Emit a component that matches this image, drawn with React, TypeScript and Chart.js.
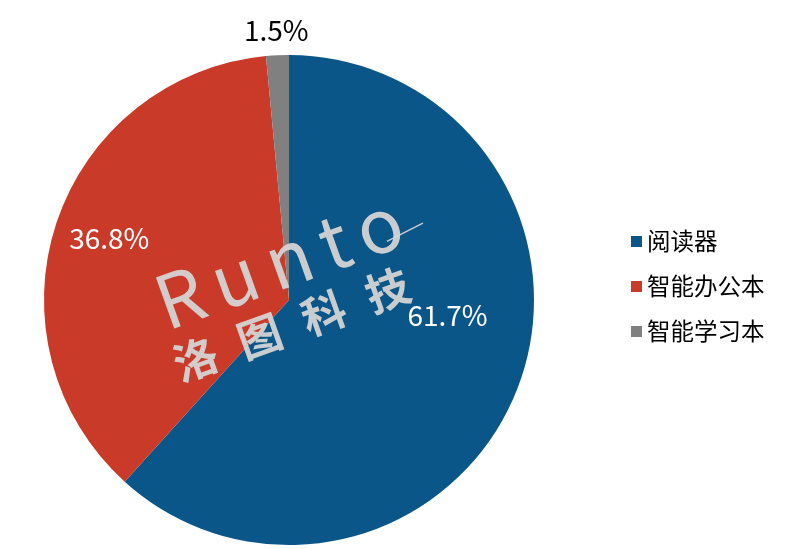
import React, { useEffect, useRef } from "react";
import { Chart, registerables } from "chart.js";

Chart.register(...registerables);

const categories = ["阅读器", "智能办公本", "智能学习本"];
const shares = [61.7, 36.8, 1.5];
const colors = ["#0A5688", "#C93A29", "#808080"];

const FONT = '"Noto Sans CJK SC", "Noto Sans", sans-serif';

// label placement: [fraction along the slice, radius fraction]
const labelPos: [number, number][] = [
  [0.43, 0.65],
  [0.505, 0.776],
  [0.5, 1.1],
];

const overlayPlugin = {
  id: "overlay",
  afterDatasetsDraw(chart: any) {
    const ctx = chart.ctx as CanvasRenderingContext2D;
    const meta = chart.getDatasetMeta(0);
    const arc0 = meta.data[0] as any;
    const cx = arc0.x;
    const cy = arc0.y;
    const R = arc0.outerRadius;

    // watermark
    ctx.save();
    ctx.translate(cx, cy);
    ctx.rotate(-0.345);
    ctx.fillStyle = "rgba(212,212,212,0.95)";
    ctx.strokeStyle = "rgba(212,212,212,0.95)";
    ctx.textAlign = "left";
    ctx.textBaseline = "alphabetic";
    ctx.font = `400 74px ${FONT}`;
    (ctx as any).letterSpacing = "12px";
    ctx.fillText("Runto", -125, -12);
    (ctx as any).letterSpacing = "0px";
    ctx.lineWidth = 1.5;
    ctx.beginPath();
    ctx.moveTo(112, -22);
    ctx.lineTo(152, -27);
    ctx.stroke();
    ctx.textAlign = "center";
    ctx.textBaseline = "middle";
    ctx.font = `bold 44px ${FONT}`;
    const wm = "洛图科技";
    for (let i = 0; i < wm.length; i++) {
      ctx.fillText(wm[i], -108 + i * 68, 24);
    }
    ctx.restore();

    // data labels
    ctx.save();
    ctx.font = `28px ${FONT}`;
    ctx.textBaseline = "middle";
    ctx.textAlign = "center";
    meta.data.forEach((a: any, i: number) => {
      const [f, rf] = labelPos[i];
      const ang = a.startAngle + (a.endAngle - a.startAngle) * f;
      const txt = shares[i].toFixed(1) + "%";
      ctx.fillStyle = i === 2 ? "#000" : "#fff";
      const x = cx + Math.cos(ang) * R * rf;
      const y = cy + Math.sin(ang) * R * rf;
      ctx.fillText(txt, x, y);
    });
    ctx.restore();

    // legend
    ctx.save();
    ctx.font = `23.5px ${FONT}`;
    ctx.textBaseline = "middle";
    ctx.textAlign = "left";
    categories.forEach((c, i) => {
      const y = 241 + i * 45;
      ctx.fillStyle = colors[i];
      ctx.fillRect(631, y - 5, 11, 11);
      ctx.fillStyle = "#000";
      ctx.fillText(c, 647, y);
    });
    ctx.restore();
  },
};

export default function App() {
  const ref = useRef<HTMLCanvasElement>(null);
  useEffect(() => {
    if (!ref.current) return;
    const chart = new Chart(ref.current, {
      type: "pie",
      data: {
        labels: categories,
        datasets: [
          {
            data: shares,
            backgroundColor: colors,
            borderWidth: 0,
          },
        ],
      },
      options: {
        responsive: false,
        animation: false,
        layout: { padding: { left: 44, right: 268, top: 55, bottom: 4 } },
        plugins: {
          legend: { display: false },
          tooltip: { enabled: false },
        },
      },
      plugins: [overlayPlugin],
    });
    return () => chart.destroy();
  }, []);
  return (
    <div style={{ position: "fixed", left: 0, top: 0, width: 802, height: 549, background: "#fff" }}>
      <canvas ref={ref} width={802} height={549} />
    </div>
  );
}
